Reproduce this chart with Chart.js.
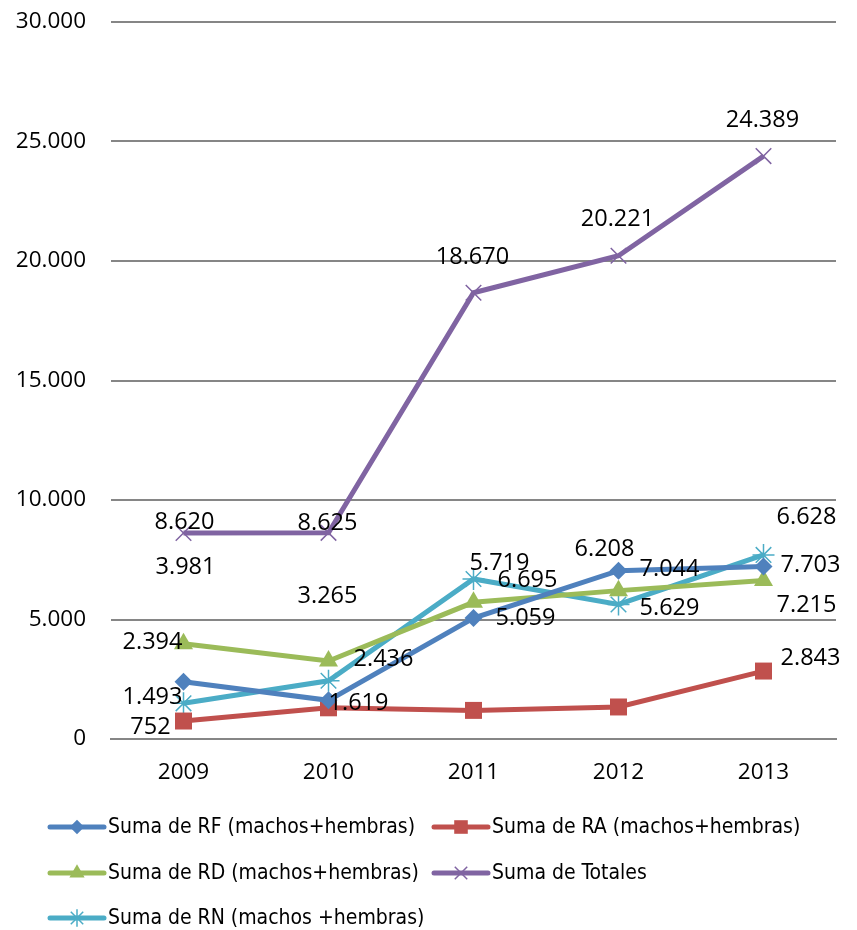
<!DOCTYPE html>
<html>
<head>
<meta charset="utf-8">
<script src="https://cdn.jsdelivr.net/npm/chart.js@4.4.1/dist/chart.umd.min.js"></script>
<style>
  html, body { margin: 0; padding: 0; background: #fff; }
  #wrap { width: 857px; height: 930px; }
</style>
</head>
<body>
<div id="wrap"><canvas id="myChart" width="857" height="930"></canvas></div>
<script>
// categories and values
const years = ['2009', '2010', '2011', '2012', '2013'];
const rf = [2394, 1619, 5059, 7044, 7215];
const ra = [752, 1305, 1197, 1340, 2843];
const rd = [3981, 3265, 5719, 6208, 6628];
const totales = [8620, 8625, 18670, 20221, 24389];
const rn = [1493, 2436, 6695, 5629, 7703];
const yTicks = [0, 5000, 10000, 15000, 20000, 25000, 30000];

// where each value label sits relative to its point (px), null = not shown
const offRF = [[-31, -39], [30, 3], [52, 0], [51, -1], [43, 39]];
const offRA = [[-33, 6], null, null, null, [47, -13]];
const offRD = [[2, -77], [-1, -65], [26, -39], [-14, -41], [43, -63]];
const offTot = [[1, -11], [-1, -10], [-1, -35], [-1, -36], [-1, -36]];
const offRN = [[-31, -6], [55, -21], [54, 1], [51, 4], [47, 10]];

const FONT = '"Open Sans", "DejaVu Sans", sans-serif';

function fmt(v) {
  return v.toString().replace(/\B(?=(\d{3})+(?!\d))/g, '.');
}

function ds(label, data, color, style, radius, offs) {
  return {
    label: label,
    data: data,
    borderColor: color,
    backgroundColor: color,
    borderWidth: 5,
    pointStyle: style,
    pointRadius: radius,
    pointHoverRadius: radius,
    pointBackgroundColor: color,
    pointBorderColor: color,
    pointBorderWidth: (style == 'crossRot' || style == 'star') ? 1.5 : 0,
    tension: 0,
    fill: false,
    offs: offs
  };
}

const valueLabels = {
  id: 'valueLabels',
  afterDatasetsDraw(chart) {
    const ctx = chart.ctx;
    ctx.save();
    ctx.font = '23.5px ' + FONT;
    ctx.fillStyle = '#000';
    ctx.textAlign = 'center';
    ctx.textBaseline = 'middle';
    chart.data.datasets.forEach((d, i) => {
      const meta = chart.getDatasetMeta(i);
      meta.data.forEach((pt, j) => {
        const o = d.offs[j];
        if (!o) return;
        ctx.fillText(fmt(d.data[j]), pt.x + o[0], pt.y + o[1]);
      });
    });
    ctx.restore();
  }
};

const legendBox = {
  id: 'legendBox',
  afterDraw(chart) {
    const ctx = chart.ctx;
    const cols = [48, 432];
    const rows = [827, 873, 918];
    ctx.save();
    chart.data.datasets.forEach((d, i) => {
      const x = cols[i % 2], y = rows[Math.floor(i / 2)];
      ctx.strokeStyle = d.borderColor;
      ctx.lineWidth = 5;
      ctx.lineCap = 'round';
      ctx.beginPath();
      ctx.moveTo(x + 2, y);
      ctx.lineTo(x + 56, y);
      ctx.stroke();
      ctx.lineCap = 'butt';
      ctx.fillStyle = d.borderColor;
      ctx.lineWidth = d.pointBorderWidth || 1;
      Chart.helpers.drawPoint(ctx, {
        pointStyle: d.pointStyle,
        radius: d.pointRadius * 0.8,
        rotation: 0,
        borderWidth: d.pointBorderWidth
      }, x + 29, y);
      ctx.fillStyle = '#000';
      ctx.font = '21px "Liberation Sans Narrow", "DejaVu Sans Condensed", sans-serif';
      ctx.textAlign = 'left';
      ctx.textBaseline = 'middle';
      ctx.fillText(d.label, x + 60, y + 1);
    });
    ctx.restore();
  }
};

// stop the axes from pushing the plot area around
const noPad = () => ({ left: 0, top: 0, right: 0, bottom: 0 });

new Chart(document.getElementById('myChart'), {
  type: 'line',
  data: {
    labels: years,
    datasets: [
      ds('Suma de RF (machos+hembras)', rf, '#4F81BD', 'rectRot', 9, offRF),
      ds('Suma de RA (machos+hembras)', ra, '#C0504D', 'rect', 12, offRA),
      ds('Suma de RD (machos+hembras)', rd, '#9BBB59', 'triangle', 11, offRD),
      ds('Suma de Totales', totales, '#8064A2', 'crossRot', 11, offTot),
      ds('Suma de RN (machos +hembras)', rn, '#4BACC6', 'star', 11, offRN)
    ]
  },
  options: {
    responsive: false,
    animation: false,
    layout: { autoPadding: false, padding: { top: 22, right: 21, left: 0, bottom: 0 } },
    plugins: {
      legend: { display: false },
      tooltip: { enabled: false }
    },
    scales: {
      x: {
        offset: true,
        grid: { display: false, drawTicks: false },
        border: { display: true, color: '#868686', width: 2 },
        ticks: { font: { family: FONT, size: 22.5 }, color: '#000', padding: 20 },
        afterFit(scale) { scale.height = 191; scale.getPadding = noPad; }
      },
      y: {
        min: 0,
        max: 30000,
        afterBuildTicks(scale) { scale.ticks = yTicks.map(v => ({ value: v })); },
        grid: { color: '#868686', lineWidth: 2, drawTicks: false },
        border: { display: false },
        ticks: {
          font: { family: FONT, size: 22.5 },
          color: '#000',
          padding: 25,
          callback: v => fmt(v)
        },
        afterFit(scale) { scale.width = 111; scale.getPadding = noPad; }
      }
    }
  },
  plugins: [valueLabels, legendBox]
});
</script>
</body>
</html>
